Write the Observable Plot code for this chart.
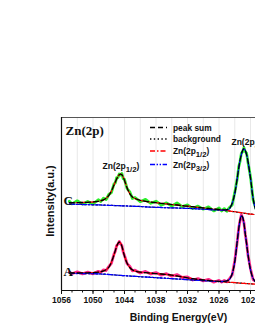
<!DOCTYPE html>
<html><head><meta charset="utf-8">
<script src="https://cdn.jsdelivr.net/npm/d3@7"></script>
<script src="https://cdn.jsdelivr.net/npm/@observablehq/plot@0.6"></script>
<style>
html,body{margin:0;padding:0;background:#fff;overflow:hidden;}
</style></head><body><div id="chart"></div>
<script>
// Binding energy grid (eV)
const energy = [1054.5,1054,1053,1052,1051,1050,1049,1048.5,1048,1047.5,1047,1046.5,1046,1045.75,1045.5,1045.25,1045,1044.75,1044.5,1044.25,1044,1043.5,1043,1042.5,1042,1041,1040,1039,1038,1037,1036,1035,1034,1033,1032,1031,1030,1029,1028,1027,1026,1025.5,1025,1024.5,1024,1023.5,1023,1022.5,1022.25,1022,1021.75,1021.5,1021.25,1021,1020.75,1020.5,1020,1019.5,1019,1018.5,1018];

// Sample A (pink): background, Zn 2p1/2 and Zn 2p3/2 components above background, raw-data scatter
const bgA = [17.1,17.1,17.0,17.0,16.9,16.8,16.6,16.5,16.4,16.2,16.0,15.8,15.6,15.5,15.4,15.3,15.2,15.1,15.0,14.9,14.8,14.7,14.5,14.3,14.2,13.8,13.5,13.2,12.8,12.5,12.2,11.8,11.5,11.2,10.8,10.5,10.2,9.9,9.6,9.2,8.9,8.8,8.6,8.4,8.2,8.0,7.8,7.6,7.5,7.4,7.3,7.2,7.1,7.0,6.9,6.8,6.7,6.5,6.4,6.3,6.2];
const peak12A = [0.4,0.4,0.5,0.6,0.8,1.1,1.7,2.3,3.2,4.6,7.2,12.5,20.0,24.5,28.5,31.8,33.3,32.3,29.2,24.5,19.5,12.5,8.5,6.3,5.3,4.6,4.3,4.2,4.1,4.0,3.8,3.5,3.0,2.5,1.9,1.3,0.9,0.6,0.4,0.3,0.2,0.2,0.1,0.1,0.1,0.1,0.1,0,0,0,0,0,0,0,0,0,0,0,0,0,0];
const peak32A = [0,0,0,0,0,0,0,0,0,0,0,0,0,0,0,0,0,0,0,0,0,0,0,0,0,0,0,0,0,0,0,0,0,0,0,0,0,0,0,0,0.1,0.2,0.5,1.2,3.0,8.5,21,43,54,63,67.5,66,60,50,40,30,14,5.5,2,0.7,0.3];
const noiseA = [0.9,-0.8,1.2,-1.0,0.6,-1.2,0.9,-0.5,1.1,-0.9,0.7,-1.1,0.8,-0.6,0.9,-0.8,0.5,-0.7,0.9,-1.0,0.7,-0.4,1.2,-1.0,0.8,-0.9,1.3,-0.8,1.0,-1.2,0.8,-1.0,1.4,-0.7,0.9,-1.3,0.8,-0.9,1.2,-1.2,1.0,-0.8,0.9,-1.0,0.7,-1.1,0.8,-0.6,1.0,-0.8,0.9,-0.8,0.7,-0.9,1.0,-0.7,0.8,-1.2,0.9,-0.8,1.0];

// Sample C (green)
const bgC = [86.4,86.3,86.2,86.0,85.9,85.7,85.6,85.5,85.4,85.3,85.2,85.1,85.0,84.95,84.9,84.85,84.8,84.75,84.7,84.65,84.6,84.5,84.4,84.3,84.2,84.0,83.7,83.4,83.2,83.0,82.8,82.6,82.5,82.3,82.1,81.9,81.6,81.3,81.0,80.7,80.4,80.2,80.0,79.7,79.4,79.0,78.7,78.3,78.1,77.9,77.7,77.5,77.3,77.1,76.9,76.7,76.4,76.1,75.9,75.7,75.5];
const peak12C = [1.4,1.5,1.7,2.0,2.3,2.8,3.6,4.3,5.3,7.0,9.8,14.3,20.5,23.5,26.5,29.2,31.0,31.7,31.0,28.8,25.5,18.0,12.5,9.3,7.8,6.2,5.5,5.0,4.6,4.2,3.8,3.4,3.0,2.6,2.2,1.9,1.6,1.3,1.0,0.7,0.5,0.4,0.3,0.3,0.2,0.2,0.2,0.1,0.1,0.1,0.1,0.1,0.1,0.1,0,0,0,0,0,0,0];
const peak32C = [0,0,0,0,0,0,0,0,0,0,0,0,0,0,0,0,0,0,0,0,0,0,0,0,0,0,0,0,0,0,0,0,0,0,0,0,0,0,0,0,0.1,0.2,0.3,0.8,2.5,8,18,35,44,52,58,62.5,64.5,63,59,53,36,16,5,1.5,0.5];
const noiseC = [1.5,-1.2,1.8,-1.6,0.9,-1.9,1.5,-0.8,1.7,-1.4,1.0,-1.6,1.2,-0.9,1.4,-1.1,0.7,-1.0,1.3,-1.5,0.9,-0.6,1.8,-1.6,1.0,-1.4,1.9,-1.2,1.5,-1.8,1.0,-1.5,2.0,-1.0,1.3,-1.9,1.2,-1.3,1.6,-1.8,1.5,-1.2,1.3,-1.5,1.0,-1.6,1.2,-0.9,1.4,-1.0,1.3,-1.2,0.9,-1.3,1.5,-1.0,1.2,-1.6,1.3,-1.2,1.5];

// Axis ticks
const xTickLabels = [1056,1050,1044,1038,1032,1026,1020];
const xMinorTicks = [1056,1054,1052,1050,1048,1046,1044,1042,1040,1038,1036,1034,1032,1030,1028,1026,1024,1022,1020];
const xGrid = [1053,1050,1047,1044,1041,1038,1035,1032,1029,1026,1023,1020];

const legendItems = [
  {label: "peak sum", stroke: "#000", dash: "5,3"},
  {label: "background", stroke: "#000", dash: "1.4,2.4"},
  {label: "Zn(2p1/2)", stroke: "#ff0000", dash: "5,2,1.5,2"},
  {label: "Zn(2p3/2)", stroke: "#0000ff", dash: "5,1.6,1.4,1.6,1.4,1.6"}
];

const build = (bg, p12, p32, res) => energy.map((e, i) => ({
  e,
  bg: bg[i],
  c12: bg[i] + p12[i],
  c32: bg[i] + p32[i],
  sum: bg[i] + p12[i] + p32[i],
  raw: bg[i] + p12[i] + p32[i] + res[i]
}));
const A = build(bgA, peak12A, peak32A, noiseA);
const C = build(bgC, peak12C, peak32C, noiseC);

const sans = "'Liberation Sans', Arial, Helvetica, sans-serif";
const serif = "'Liberation Serif', 'Times New Roman', serif";

const fits = (d) => [
  Plot.line(d, {x: "e", y: "bg", stroke: "#000", strokeWidth: 1.2, strokeDasharray: "1.4,2.4", curve: "catmull-rom", clip: true}),
  Plot.line(d, {x: "e", y: "c12", stroke: "#ff0000", strokeWidth: 1.3, strokeDasharray: "5,2,1.5,2", curve: "catmull-rom", clip: true}),
  Plot.line(d, {x: "e", y: "c32", stroke: "#0000ff", strokeWidth: 1.3, strokeDasharray: "5,1.6,1.4,1.6,1.4,1.6", curve: "catmull-rom", clip: true}),
  Plot.line(d, {x: "e", y: "sum", stroke: "#000", strokeWidth: 1.3, strokeDasharray: "5,3", curve: "catmull-rom", clip: true})
];

const peakC12 = C[d3.maxIndex(peak12C)];
const peakC32 = C[d3.maxIndex(peak32C)];

const plot = Plot.plot({
  width: 255,
  height: 330,
  marginLeft: 61,
  marginRight: 0,
  marginTop: 117,
  marginBottom: 40,
  x: {domain: [1056, 1019.05], axis: null},
  y: {domain: [0, 173], axis: null},
  style: {background: "#fff", fontFamily: sans, fontSize: "8.5px", fontWeight: "bold", overflow: "visible", color: "#111"},
  marks: [
    Plot.ruleX(xGrid, {stroke: "#e2e2e2", strokeWidth: 0.8}),
    Plot.line(A, {x: "e", y: "raw", stroke: "#ff2a8c", strokeWidth: 2.8, clip: true}),
    Plot.line(C, {x: "e", y: "raw", stroke: "#2bf02b", strokeWidth: 2.8, clip: true}),
    ...fits(A),
    ...fits(C),
    Plot.ruleY([173], {stroke: "#555", strokeWidth: 1}),
    Plot.ruleY([0], {stroke: "#111", strokeWidth: 1.2}),
    Plot.ruleX([1056], {stroke: "#111", strokeWidth: 1.2}),
    Plot.axisX({ticks: xMinorTicks, tickSize: 2.5, tickFormat: () => "", label: null, strokeWidth: 1}),
    Plot.axisX({ticks: xTickLabels, tickSize: 4, tickPadding: 2.5, tickFormat: (d) => String(d), label: null, fontSize: 8.5, fontWeight: "bold"}),
    Plot.text(["Zn(2p)"], {frameAnchor: "top-left", dx: 4, dy: 17, textAnchor: "start", lineAnchor: "bottom", fontFamily: serif, fontSize: 13, fontWeight: "bold", fill: "#111"}),
    Plot.text([C[0]], {x: () => 1056, y: "raw", text: () => "C", dx: 2, textAnchor: "start", lineAnchor: "middle", fontFamily: serif, fontSize: 13, fontWeight: "bold", fill: "#111"}),
    Plot.text([A[0]], {x: () => 1056, y: "raw", text: () => "A", dx: 2, textAnchor: "start", lineAnchor: "middle", fontFamily: serif, fontSize: 13, fontWeight: "bold", fill: "#111"}),
    Plot.text([peakC12], {x: "e", y: "sum", text: () => "Zn(2p1/2)", dx: -18, dy: -5.5, textAnchor: "start", lineAnchor: "bottom", fontSize: 8.5, fontWeight: "bold", fill: "#111"}),
    Plot.text([peakC32], {x: "e", y: "sum", text: () => "Zn(2p3/2)", dx: -12.5, dy: -4, textAnchor: "start", lineAnchor: "bottom", fontSize: 8.5, fontWeight: "bold", fill: "#111"}),
    Plot.text(["Binding Energy(eV)"], {frameAnchor: "bottom", dx: 20, dy: 27, lineAnchor: "middle", fontSize: 10.5, fontWeight: "bold", fill: "#111"})
  ]
});

document.getElementById("chart").appendChild(plot);

const svg = d3.select(plot);

// Y axis title (layout overlay)
svg.append("text")
  .attr("transform", "translate(50,201) rotate(-90)")
  .attr("text-anchor", "middle").attr("dy", "0.35em")
  .attr("font-family", sans).attr("font-size", 11).attr("font-weight", "bold").attr("fill", "#111")
  .text("Intensity(a.u.)");

// Legend (layout overlay)
const lg = svg.append("g").attr("font-family", sans).attr("font-size", 8.4).attr("font-weight", "bold").attr("text-anchor", "start");
const rowY = [127.5, 139, 151, 164.5];
legendItems.forEach((it, i) => {
  lg.append("line").attr("x1", 150).attr("x2", 167).attr("y1", rowY[i]).attr("y2", rowY[i])
    .attr("stroke", it.stroke).attr("stroke-width", 1.3).attr("stroke-dasharray", it.dash);
  lg.append("text").attr("x", 173).attr("y", rowY[i] + 3).attr("fill", "#111").text(it.label);
});

// Subscripts for Zn(2pX/2)
svg.selectAll("text").each(function () {
  const t = this.textContent;
  const m = /^Zn\(2p(\d\/\d)\)$/.exec(t);
  if (!m) return;
  const el = d3.select(this);
  el.text(null);
  el.append("tspan").text("Zn(2p");
  el.append("tspan").attr("dy", 3).attr("font-size", "0.92em").text(m[1]);
  el.append("tspan").attr("dy", -3).text(")");
});
</script></body></html>
